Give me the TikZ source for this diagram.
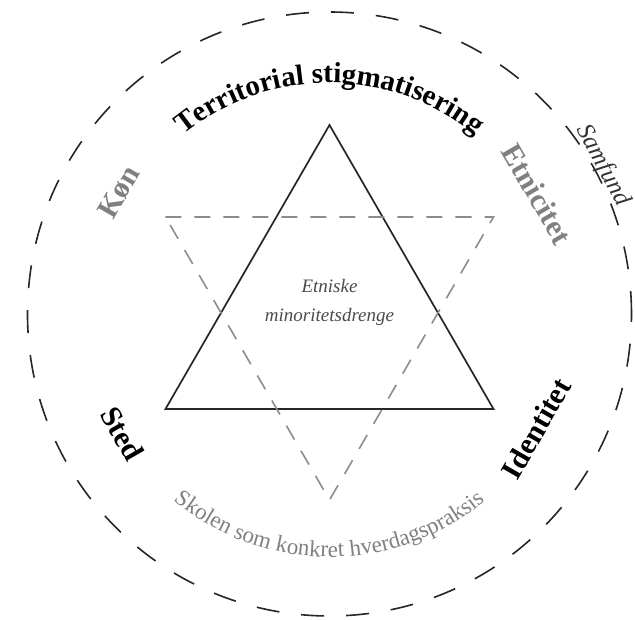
\documentclass[tikz,border=0pt]{standalone}
\usepackage{fontspec}
\setmainfont{Liberation Serif}
\usetikzlibrary{decorations.text}

\definecolor{fadegray}{HTML}{808080}
\definecolor{linegray}{HTML}{8C8C8C}
\definecolor{inkgray}{HTML}{4A4A4A}

\begin{document}
\begin{tikzpicture}[
    x=1pt, y=1pt,
    ring/.style={
        draw=black!85,
        line width=1.6pt,
        dash pattern=on 23pt off 22pt
    },
    solidtri/.style={
        draw=black!85,
        line width=1.7pt
    },
    dashtri/.style={
        draw=linegray,
        line width=1.6pt,
        dash pattern=on 16pt off 13pt
    },
    sidelabel/.style={
        font=\fontsize{30}{32}\selectfont\bfseries,
        inner sep=0pt
    },
    centrelabel/.style={
        font=\fontsize{19}{29}\selectfont\itshape,
        text=inkgray,
        align=center
    }
]
\useasboundingbox (-329.5,-305) rectangle (305.5,314);

\coordinate (c) at (0,0);
\draw[ring] (c) circle[radius=302];

\coordinate (top) at (0,189);
\coordinate (bl) at (-164,-95);
\coordinate (br) at (164,-95);
\draw[solidtri] (top) -- (bl) -- (br) -- cycle;

\coordinate (tl) at (-164,97);
\coordinate (tr) at (164,97);
\coordinate (bot) at (0,-186);
\draw[dashtri] (tl) -- (tr) -- (bot) -- cycle;

\node[centrelabel] (drenge) at (0,12) {Etniske\\minoritetsdrenge};

\path[decorate, decoration={text along path, text align=center,
    text={|\fontsize{29}{31}\selectfont\bfseries|Territorial stigmatisering}}]
    (170:231) arc[start angle=170, end angle=10, radius=231];

\path[decorate, decoration={text along path, text align=center, text color=fadegray,
    text={|\fontsize{23}{26}\selectfont|Skolen som konkret hverdagspraksis}}]
    (200:243) arc[start angle=200, end angle=340, radius=243];

\node[sidelabel, text=fadegray, rotate=60] (kon) at (150:243) {Køn};
\node[sidelabel, text=fadegray, rotate=-60] (etnicitet) at (30:240) {Etnicitet};
\node[sidelabel, rotate=-60] (sted) at (210:239) {Sted};
\node[sidelabel, rotate=60] (identitet) at (-29:236) {Identitet};

\node[font=\fontsize{25}{27}\selectfont\itshape, text=black!80, rotate=-62, inner sep=0pt] (samfund) at (28.5:311) {Samfund};
\end{tikzpicture}
\end{document}
